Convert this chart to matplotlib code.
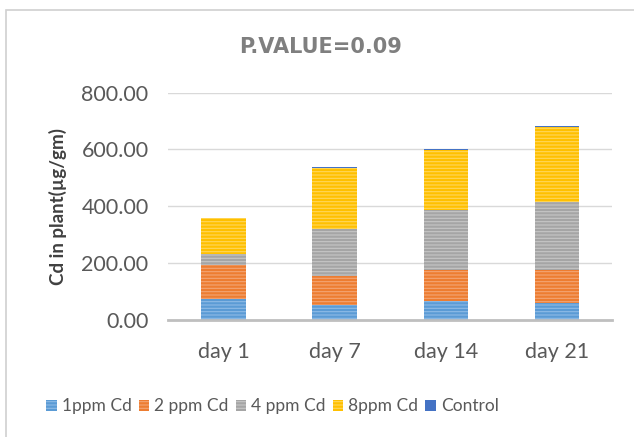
import matplotlib.pyplot as plt
from matplotlib.patches import Rectangle
import numpy as np

# values (ug/gm)
days = ["day 1", "day 7", "day 14", "day 21"]
ppm1 = [75, 53, 68, 60]
ppm2 = [118, 102, 109, 117]
ppm4 = [38, 164, 211, 238]
ppm8 = [126, 216, 210, 265]
control = [1, 3, 3, 2]

series = [ppm1, ppm2, ppm4, ppm8, control]
names = ["1ppm Cd", "2 ppm Cd", "4 ppm Cd", "8ppm Cd", "Control"]
colors = ["#5B9BD5", "#ED7D31", "#A5A5A5", "#FFC000", "#4472C4"]
stripes = ["#8EBBE6", "#F3A574", "#C6C6C6", "#FFD75C", "#4472C4"]

plt.rcParams['font.family'] = ['Lato', 'DejaVu Sans']
plt.rcParams['hatch.linewidth'] = 0.8

fig = plt.figure(figsize=(6.34, 4.37), dpi=100)
ax = fig.add_axes([0.265, 0.268, 0.701, 0.520])

# chart frame
fig.patches.append(Rectangle((0.009, -0.02), 1.2, 0.998, transform=fig.transFigure,
                             facecolor="none", edgecolor="#D0D0D0", linewidth=1.2))

x = np.arange(len(days))
bottom = np.zeros(len(days))
for vals, name, c, s in zip(series, names, colors, stripes):
    ax.bar(x, vals, width=0.4, bottom=bottom, color=c, label=name,
           edgecolor=s, linewidth=0, hatch="-----" if name != "Control" else None)
    bottom += np.array(vals)

ax.set_ylim(0, 800)
ax.set_xlim(-0.5, len(days) - 0.5)
ax.set_yticks([0, 200, 400, 600, 800])
ax.set_yticklabels(["%.2f" % v for v in [0, 200, 400, 600, 800]])
ax.set_xticks(x)
ax.set_xticklabels(days)
ax.tick_params(length=0, labelsize=15.5, colors="#595959")
ax.tick_params(axis="x", pad=16)
ax.tick_params(axis="y", pad=14)
ax.yaxis.grid(True, color="#D9D9D9", linewidth=1)
ax.set_axisbelow(True)
for sp in ["top", "right", "left"]:
    ax.spines[sp].set_visible(False)
ax.spines["bottom"].set_color("#BFBFBF")
ax.spines["bottom"].set_linewidth(2)

ax.set_ylabel("Cd in plant(µg/gm)", fontsize=13.5, fontweight="bold",
              color="#404040", labelpad=10)

fig.text(0.505, 0.893, "P.VALUE=0.09", ha="center", va="center", fontsize=15,
         fontweight="bold", color="#7F7F7F", family="DejaVu Sans")

ax.legend(loc="center", bbox_to_anchor=(0.235, -0.38), ncol=5, frameon=False,
          fontsize=12.5, handlelength=0.6, handleheight=0.6, handletextpad=0.3,
          columnspacing=0.4, labelcolor="#595959")

fig.savefig("out.png", dpi=100, facecolor="white")
